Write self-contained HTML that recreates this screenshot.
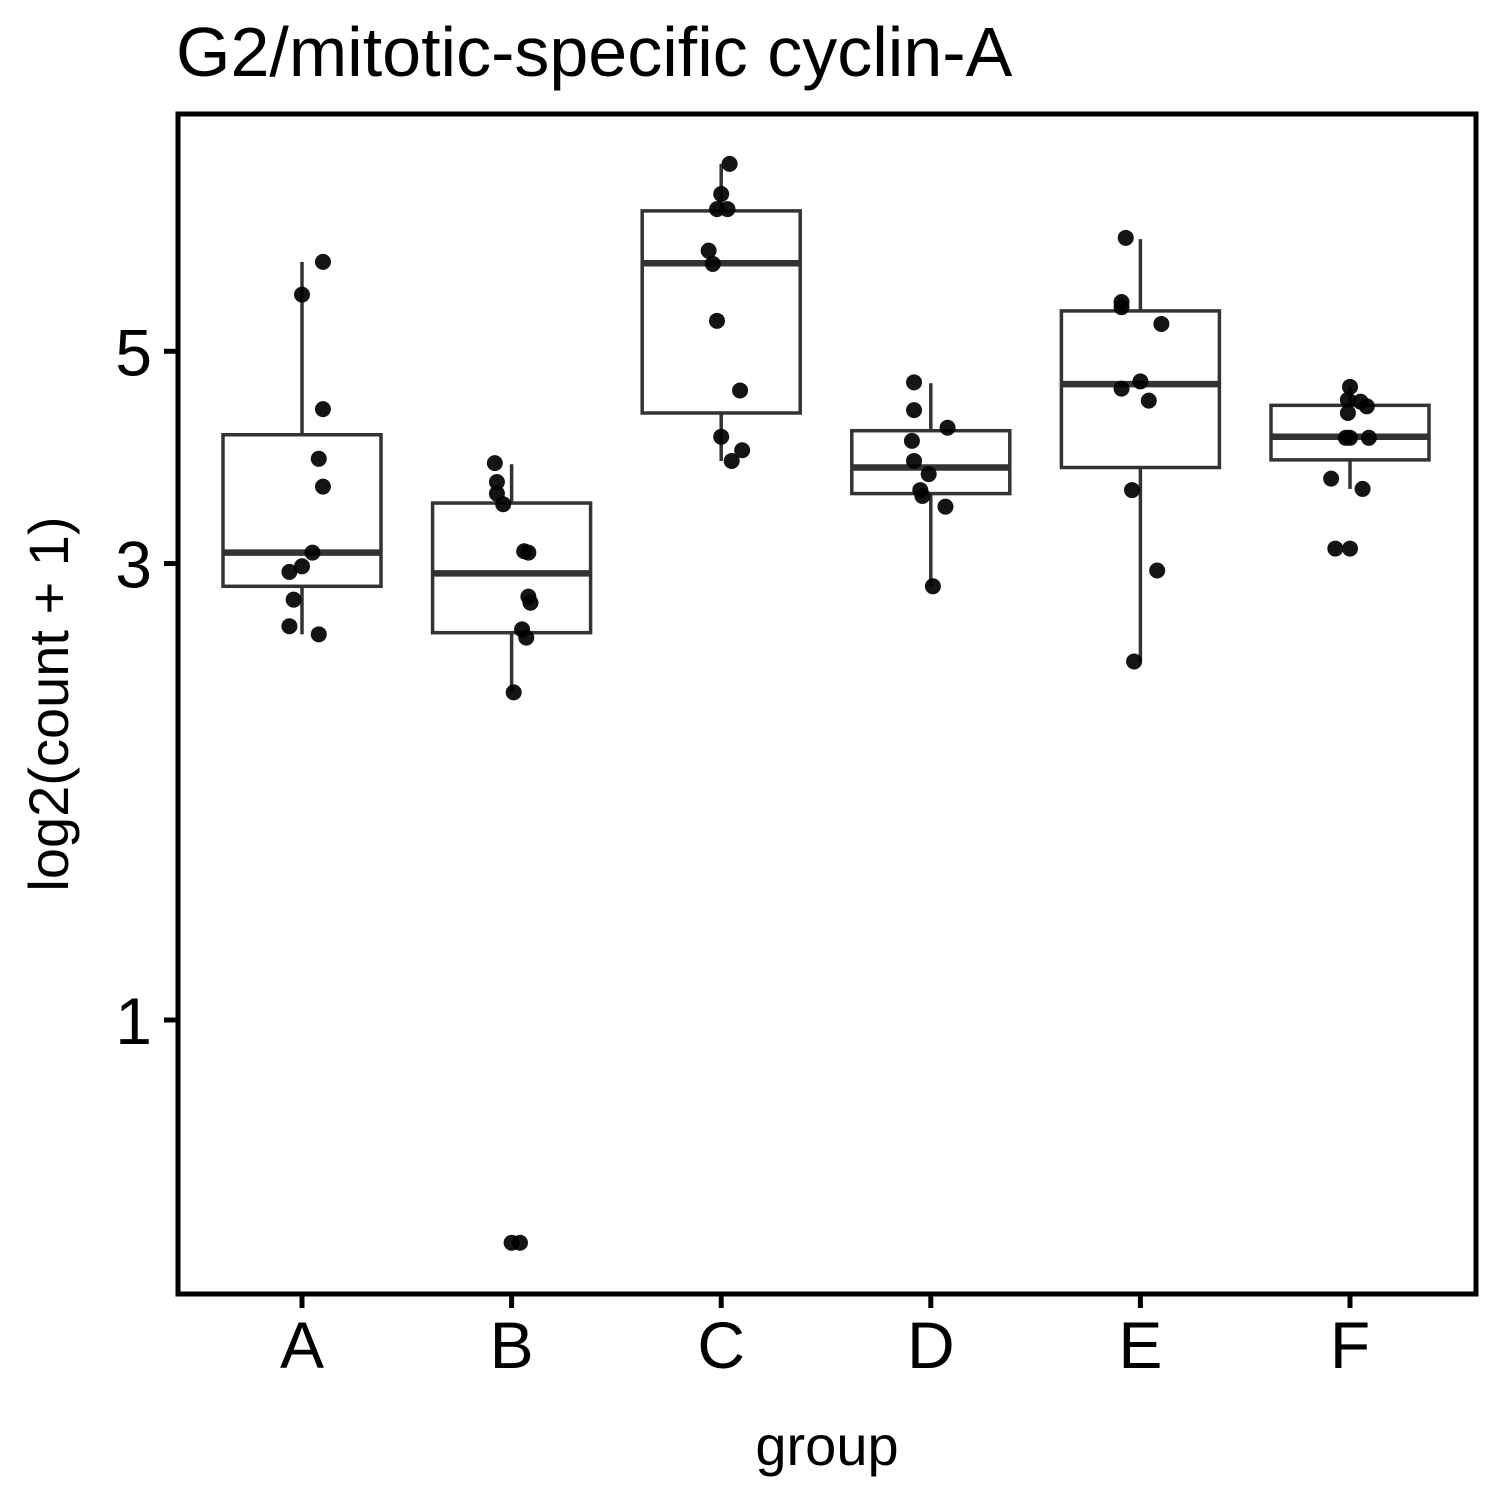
<!DOCTYPE html>
<html><head><meta charset="utf-8"><style>
html,body{margin:0;padding:0;background:#fff;}
svg{display:block;font-family:"Liberation Sans",Arial,sans-serif;}
</style></head><body>
<svg id="chart" width="1500" height="1500" viewBox="0 0 1500 1500">
<rect x="0" y="0" width="1500" height="1500" fill="#fff"/>
<text x="176" y="76" font-size="70" fill="#000">G2/mitotic-specific cyclin-A</text>
<text x="827" y="1465" font-size="56" text-anchor="middle" fill="#000">group</text>
<text transform="translate(68,704) rotate(-90)" font-size="56" text-anchor="middle" fill="#000">log2(count + 1)</text>
<g id="plot"></g>
<rect x="178" y="114" width="1298" height="1180" fill="none" stroke="#000" stroke-width="5"/>
</svg>
<script>
const categories = ["A","B","C","D","E","F"];
const q1 = [2.84, 2.54, 4.31, 3.55, 3.78, 3.85];
const medians = [3.08, 2.93, 6.18, 3.78, 4.62, 4.07];
const q3 = [4.09, 3.47, 7.01, 4.13, 5.51, 4.39];
const whiskerLo = [2.53, 2.20, 3.84, 2.84, 2.37, 3.59];
const whiskerHi = [6.20, 3.81, 7.85, 4.63, 6.55, 4.59];
const yTicks = [1, 3, 5];
const pointValues = [
 [6.20,5.73,4.35,3.86,3.61,3.08,2.98,2.94,2.75,2.58,2.53],
 [3.82,3.65,3.55,3.46,3.09,3.08,2.77,2.73,2.56,2.51,2.20,0.585,0.585],
 [7.85,7.30,7.04,7.04,6.37,6.17,5.38,4.55,4.07,3.94,3.84],
 [4.64,4.34,4.16,4.03,3.84,3.72,3.58,3.53,3.44,2.84],
 [6.57,5.63,5.56,5.34,4.65,4.57,4.44,3.58,2.95,2.37],
 [4.59,4.45,4.43,4.38,4.31,4.06,4.06,4.06,3.68,3.59,3.11,3.11]
];
const jitter = [
 [0.10,0.00,0.10,0.08,0.10,0.05,0.00,-0.06,-0.04,-0.06,0.08],
 [-0.08,-0.07,-0.07,-0.04,0.06,0.08,0.08,0.09,0.05,0.07,0.01,0.00,0.04],
 [0.04,0.00,-0.02,0.03,-0.06,-0.04,-0.02,0.09,0.00,0.10,0.05],
 [-0.08,-0.08,0.08,-0.09,-0.08,-0.01,-0.05,-0.04,0.07,0.01],
 [-0.07,-0.09,-0.09,0.10,0.00,-0.09,0.04,-0.04,0.08,-0.03],
 [0.00,-0.01,0.05,0.08,-0.01,-0.02,0.00,0.09,-0.09,0.06,-0.07,0.00]
];
const NS="http://www.w3.org/2000/svg";
const g=document.getElementById('plot');
function xScale(i){return 302+209.6*i;}
function yScale(v){return 1020-415.5*Math.log(v);}
function mk(tag,attrs){const e=document.createElementNS(NS,tag);for(const k in attrs)e.setAttribute(k,attrs[k]);g.appendChild(e);return e;}
yTicks.forEach(t=>{
 const y=yScale(t);
 const tk=mk('line',{x1:164,x2:178,y1:y,y2:y,stroke:'#000','stroke-width':5});
 
 
 const tl=mk('text',{x:152,y:y+24,'font-size':66,'text-anchor':'end',fill:'#000'});
 tl.textContent=t;
 
 
});
categories.forEach((c,i)=>{
 const x=xScale(i);
 const tk=mk('line',{x1:x,x2:x,y1:1294,y2:1308,stroke:'#000','stroke-width':5});
 
 
 const tl=mk('text',{x:x,y:1368,'font-size':66,'text-anchor':'middle',fill:'#000'});
 tl.textContent=c;
 
 
 const w1=mk('line',{x1:x,x2:x,y1:yScale(whiskerHi[i]),y2:yScale(q3[i]),stroke:'#333','stroke-width':3.5});
 
 
 const w2=mk('line',{x1:x,x2:x,y1:yScale(q1[i]),y2:yScale(whiskerLo[i]),stroke:'#333','stroke-width':3.5});
 
 
 const b=mk('rect',{x:x-79,y:yScale(q3[i]),width:158,height:yScale(q1[i])-yScale(q3[i]),fill:'#fff',stroke:'#333','stroke-width':3.5});
 
 
 const m=mk('line',{x1:x-79,x2:x+79,y1:yScale(medians[i]),y2:yScale(medians[i]),stroke:'#333','stroke-width':6.5});
 
 
});
categories.forEach((c,i)=>{
 pointValues[i].forEach((v,j)=>{
  const p=mk('circle',{cx:xScale(i)+jitter[i][j]*209.6,cy:yScale(v),r:8,fill:'#000','fill-opacity':0.92});
  
  
 });
});
</script>
</body></html>
